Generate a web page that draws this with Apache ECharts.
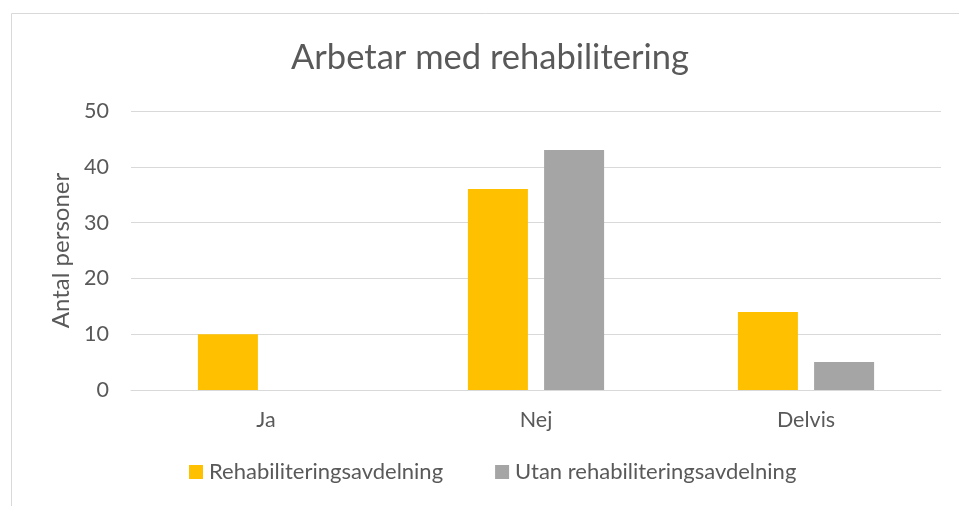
<!DOCTYPE html>
<html><head><meta charset="utf-8">
<script src="https://cdn.jsdelivr.net/npm/echarts@6/dist/echarts.min.js"></script>
<style>html,body{margin:0;padding:0;background:#fff}#c{width:959px;height:506px}</style>
</head><body><div id="c"></div>
<script>
const categories = ['Ja', 'Nej', 'Delvis'];
const seriesNames = ['Rehabiliteringsavdelning', 'Utan rehabiliteringsavdelning'];
const rehabValues = [10, 36, 14];
const utanValues = [0, 43, 5];
const yTicks = {min: 0, max: 50, interval: 10};
const FONT = 'Lato';
const TXT = '#595959';
const chart = echarts.init(document.getElementById('c'), null, {renderer: 'canvas'});
chart.setOption({
  animation: false,
  textStyle: {fontFamily: FONT},
  graphic: [{type: 'rect', shape: {x: 11.5, y: 13.5, width: 1000, height: 600}, style: {fill: 'none', stroke: '#D9D9D9', lineWidth: 1}, silent: true}],
  title: {text: 'Arbetar med rehabilitering', left: 286, top: 35, textStyle: {fontFamily: FONT, fontSize: 34.5, fontWeight: 'normal', color: TXT}},
  legend: {top: 456, left: 184, itemWidth: 14, itemHeight: 14, itemGap: 52, icon: 'rect',
    textStyle: {fontFamily: FONT, fontSize: 22, color: TXT, padding: [0, 0, 0, 1]}, data: seriesNames},
  grid: {left: 131, right: 18, top: 111, bottom: 116},
  xAxis: {type: 'category', data: categories,
    axisLine: {lineStyle: {color: '#D9D9D9', width: 1}}, axisTick: {show: false},
    axisLabel: {fontFamily: FONT, fontSize: 21.5, color: TXT, margin: 19}},
  yAxis: {type: 'value', min: yTicks.min, max: yTicks.max, interval: yTicks.interval,
    name: 'Antal personer', nameLocation: 'middle', nameGap: 58, nameRotate: 90,
    nameTextStyle: {fontFamily: FONT, fontSize: 24, color: TXT},
    axisLine: {show: false}, axisTick: {show: false},
    axisLabel: {fontFamily: FONT, fontSize: 21.5, color: TXT, margin: 22},
    splitLine: {lineStyle: {color: '#D9D9D9', width: 1}}},
  series: [
    {name: seriesNames[0], type: 'bar', data: rehabValues, barWidth: 60, barGap: '27%', itemStyle: {color: '#FFC000'}},
    {name: seriesNames[1], type: 'bar', data: utanValues, barWidth: 60, barGap: '27%', itemStyle: {color: '#A5A5A5'}}
  ]
});
</script></body></html>
